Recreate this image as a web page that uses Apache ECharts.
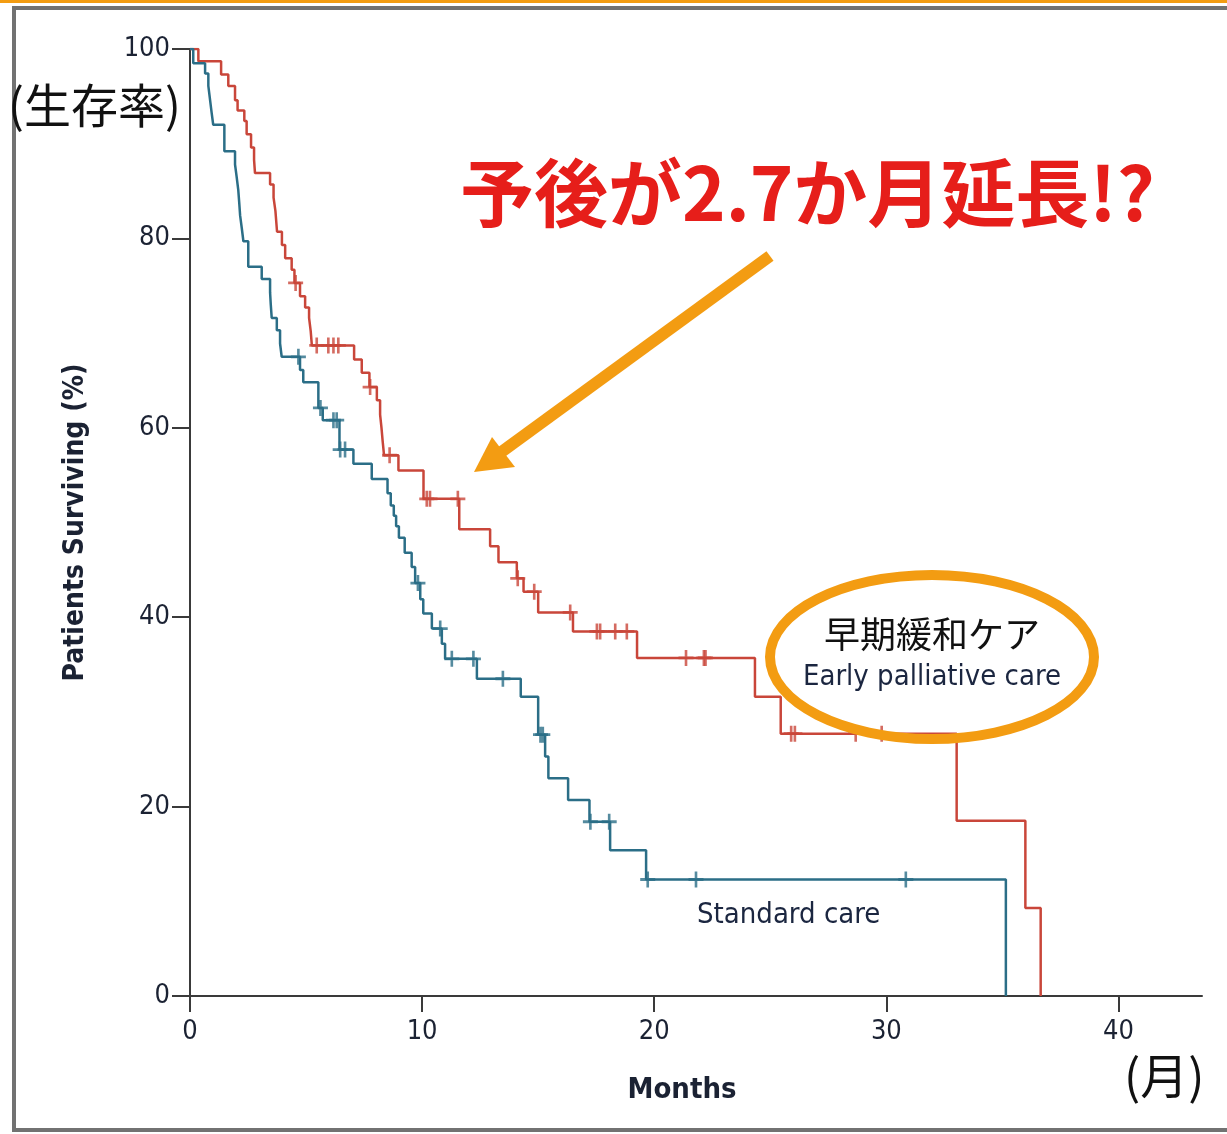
<!DOCTYPE html>
<html>
<head>
<meta charset="utf-8">
<script src="https://cdn.jsdelivr.net/npm/echarts@6/dist/echarts.min.js"></script>
<style>
  html, body { margin: 0; padding: 0; background: #fff; }
  #chart { width: 1227px; height: 1134px; }
</style>
</head>
<body>
<div id="chart"></div>
<script>
// Kaplan-Meier survival, months vs. % surviving
// Early palliative care: step times (months) and survival (%)
const palliativeTimes = [0, 0.36, 1.34, 1.65, 1.94, 2.05, 2.34, 2.44, 2.63, 2.76, 2.8, 3.45, 3.6, 3.68, 3.75,
  3.96, 4.1, 4.38, 4.5, 4.74, 4.96, 5.13, 5.2, 5.25, 7.07, 7.4, 7.73, 8.05, 8.19, 8.25, 8.3, 8.36, 8.98,
  10.06, 11.6, 12.93, 13.29, 14.08, 14.37, 15.0, 16.5, 19.26, 24.34, 25.45, 33.03, 35.99, 36.65];
const palliativeSurv = [100, 98.7, 97.3, 96.1, 94.6, 93.5, 92.4, 91.0, 89.6, 88.3, 86.9, 85.7, 84.3, 82.9, 80.7,
  79.3, 77.9, 76.7, 75.3, 73.9, 72.7, 71.6, 70.2, 68.7, 67.2, 65.8, 64.3, 62.9, 61.4, 60.0, 58.6, 57.1, 55.5,
  52.5, 49.3, 47.5, 45.8, 44.1, 42.7, 40.5, 38.5, 35.7, 31.6, 27.7, 18.5, 9.3, 0];
const palliativeCensored = [4.55, 5.46, 5.96, 6.18, 6.39, 7.76, 8.6, 10.2, 10.34, 11.54, 14.12, 14.83, 16.38,
  17.53, 17.67, 18.32, 18.82, 21.37, 22.14, 22.21, 25.9, 26.06, 28.68, 29.8];

// Standard care
const standardTimes = [0, 0.14, 0.65, 0.79, 0.86, 0.93, 1.0, 1.48, 1.94, 2.01, 2.08, 2.12, 2.16, 2.23, 2.3,
  2.51, 3.09, 3.45, 3.48, 3.52, 3.74, 3.88, 3.95, 4.74, 4.88, 5.53, 5.72, 6.44, 7.04, 7.83, 8.51, 8.65, 8.78,
  8.88, 9.0, 9.25, 9.55, 9.7, 9.92, 10.05, 10.42, 10.85, 10.99, 12.36, 14.25, 15.0, 15.3, 15.44, 16.29,
  17.21, 18.1, 19.65, 35.15];
const standardSurv = [100, 98.5, 97.4, 96.1, 94.7, 93.3, 92.0, 89.2, 87.8, 86.5, 85.1, 83.8, 82.4, 81.1, 79.7,
  77.0, 75.7, 74.3, 73.0, 71.6, 70.3, 68.9, 67.5, 66.1, 64.8, 62.1, 60.8, 57.7, 56.2, 54.6, 53.1, 51.8, 50.7,
  49.6, 48.4, 46.8, 45.3, 43.6, 41.9, 40.4, 38.8, 37.2, 35.6, 33.5, 31.6, 27.6, 25.3, 23.0, 20.7,
  18.4, 15.4, 12.3, 0];
const standardCensored = [4.67, 5.62, 6.18, 6.32, 6.47, 6.68, 9.82, 10.78, 11.28, 12.21, 13.48, 15.1, 15.2,
  17.25, 18.06, 19.72, 21.8, 30.84];

const xTicks = [0, 10, 20, 30, 40];
const yTicks = [0, 20, 40, 60, 80, 100];

const RED = '#c9463a';
const BLUE = '#2b6e87';
const ORANGE = '#f39c12';
const NARROW = '"Liberation Sans Narrow", "DejaVu Sans Condensed", "Roboto", sans-serif';
const JP = '"Noto Sans CJK JP", sans-serif';

function pairs(times, surv) {
  return times.map((t, i) => [t, surv[i]]);
}
// survival value of a step curve at time t
function survAt(times, surv, t) {
  let v = surv[0];
  for (let i = 0; i < times.length; i++) {
    if (times[i] <= t) v = surv[i]; else break;
  }
  return v;
}
function censorPoints(cens, times, surv) {
  return cens.map(t => [t, survAt(times, surv, t)]);
}

// censoring mark: a plus sign
const plusSymbol = 'path://M0,6.6H16V9.4H0Z M6.6,0H9.4V16H6.6Z';

const chart = echarts.init(document.getElementById('chart'), null, { renderer: 'canvas' });

chart.setOption({
  animation: false,
  backgroundColor: '#fff',
  grid: { left: 190, right: 25, top: 49, bottom: 138 },
  xAxis: {
    type: 'value', min: 0, max: 43.6, interval: 10,
    name: 'Months', nameLocation: 'middle', nameGap: 80,
    nameTextStyle: { fontFamily: NARROW, fontWeight: 'bold', fontSize: 29, color: '#1b2233', padding: [0, 28, 0, 0] },
    axisLine: { show: true, lineStyle: { color: '#3a3a3a', width: 2 } },
    axisTick: { show: true, length: 16, lineStyle: { color: '#3a3a3a', width: 2 }, customValues: xTicks },
    axisLabel: { fontFamily: NARROW, fontSize: 27, color: '#1b2233', margin: 22, customValues: xTicks },
    splitLine: { show: false }
  },
  yAxis: {
    type: 'value', min: 0, max: 100, interval: 20,
    name: 'Patients Surviving (%)', nameLocation: 'middle', nameGap: 100, nameRotate: 90,
    nameTextStyle: { fontFamily: NARROW, fontWeight: 'bold', fontSize: 28, color: '#1b2233' },
    axisLine: { show: true, lineStyle: { color: '#3a3a3a', width: 2 } },
    axisTick: { show: true, length: 18, lineStyle: { color: '#3a3a3a', width: 2 }, customValues: yTicks },
    axisLabel: { fontFamily: NARROW, fontSize: 27, color: '#1b2233', margin: 20, customValues: yTicks },
    splitLine: { show: false }
  },
  series: [
    {
      name: 'Early palliative care', type: 'line', step: 'end',
      data: pairs(palliativeTimes, palliativeSurv),
      showSymbol: false, lineStyle: { color: RED, width: 2.5 }, z: 3
    },
    {
      name: 'Standard care', type: 'line', step: 'end',
      data: pairs(standardTimes, standardSurv),
      showSymbol: false, lineStyle: { color: BLUE, width: 2.5 }, z: 3
    },
    {
      type: 'scatter', data: censorPoints(palliativeCensored, palliativeTimes, palliativeSurv),
      symbol: plusSymbol, symbolSize: [15, 16], itemStyle: { color: RED }, z: 4
    },
    {
      type: 'scatter', data: censorPoints(standardCensored, standardTimes, standardSurv),
      symbol: plusSymbol, symbolSize: [15, 16], itemStyle: { color: BLUE }, z: 4
    }
  ],
  graphic: [
    // orange rule at the top and grey frame
    { type: 'rect', shape: { x: 0, y: 0, width: 1227, height: 3 }, style: { fill: ORANGE }, z: 10 },
    { type: 'rect', shape: { x: 14, y: 8, width: 1260, height: 1122 },
      style: { fill: null, stroke: '#727272', lineWidth: 4 }, z: 10 },
    // y-axis line continues a little below the x axis
    { type: 'line', shape: { x1: 190, y1: 996, x2: 190, y2: 1012 },
      style: { stroke: '#3a3a3a', lineWidth: 2 }, z: 10 },
    // y-axis unit in Japanese
    { type: 'text', left: 8, top: 82,
      style: { text: '(生存率)', font: '47px ' + JP, fill: '#111' }, z: 10 },
    // x-axis unit in Japanese
    { type: 'text', left: 1124, top: 1052,
      style: { text: '(月)', font: '48px ' + JP, fill: '#111' }, z: 10 },
    // headline
    { type: 'text', left: 460, top: 156,
      style: { text: '予後が2.7か月延長!?', font: 'bold 74px ' + JP, fill: '#e61e1a' }, z: 10 },
    // arrow pointing at the early palliative care curve
    { type: 'line', shape: { x1: 770, y1: 256, x2: 500, y2: 453 },
      style: { stroke: ORANGE, lineWidth: 12 }, z: 10 },
    { type: 'polygon', shape: { points: [[474, 472], [492, 437], [515, 467]] },
      style: { fill: ORANGE }, z: 10 },
    // highlighted group label
    { type: 'ellipse', shape: { cx: 932, cy: 657, rx: 162, ry: 82 },
      style: { fill: null, stroke: ORANGE, lineWidth: 10 }, z: 10 },
    { type: 'text', x: 932, y: 634,
      style: { text: '早期緩和ケア', font: '36px ' + JP, fill: '#111', align: 'center', verticalAlign: 'middle' }, z: 11 },
    { type: 'text', x: 932, y: 677,
      style: { text: 'Early palliative care', font: '29px ' + NARROW, fill: '#1b2640', align: 'center', verticalAlign: 'middle' }, z: 11 },
    { type: 'text', x: 697, y: 915,
      style: { text: 'Standard care', font: '29px ' + NARROW, fill: '#1b2640', align: 'left', verticalAlign: 'middle' }, z: 11 }
  ]
});
</script>
</body>
</html>
